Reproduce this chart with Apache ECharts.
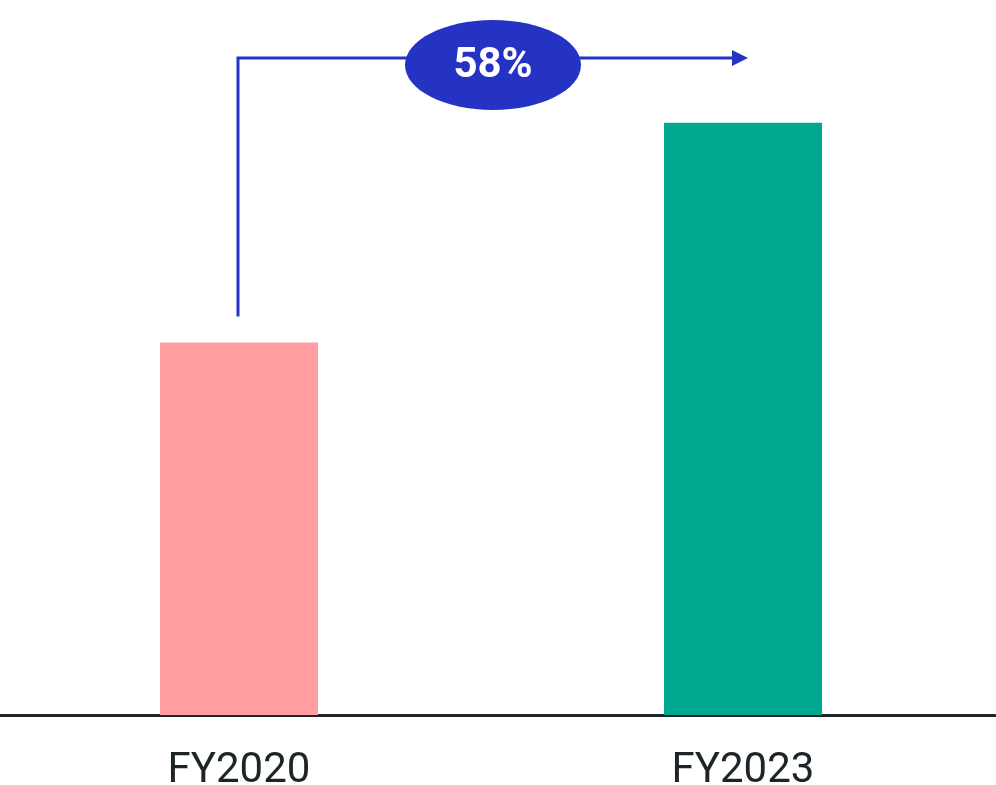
<!DOCTYPE html>
<html>
<head>
<meta charset="utf-8">
<script src="https://cdn.jsdelivr.net/npm/echarts@6/dist/echarts.min.js"></script>
<style>
  html, body { margin: 0; padding: 0; background: #fff; }
  #chart { width: 996px; height: 785px; }
</style>
</head>
<body>
<div id="chart"></div>
<script>
// 数据
const categories = ['FY2020', 'FY2023'];
const values = [100, 159];
const barColors = ['#ff9da0', '#00a88f'];
const growthLabel = '58%';

const myChart = echarts.init(document.getElementById('chart'));

const option = {
  animation: false,
  grid: { left: -13, right: 1, top: 78, bottom: 70, outerBoundsMode: 'none' },
  xAxis: {
    type: 'category',
    data: categories,
    axisLine: { lineStyle: { color: '#1d2528', width: 3 } },
    axisTick: { show: false },
    axisLabel: {
      color: '#1d2528',
      fontFamily: 'Roboto',
      fontSize: 42,
      margin: 35
    }
  },
  yAxis: {
    type: 'value',
    min: 0,
    max: 171,
    show: false
  },
  series: [{
    type: 'bar',
    barWidth: 158,
    data: values.map((v, i) => ({ value: v, itemStyle: { color: barColors[i] } })),
    z: 1
  }]
};
myChart.setOption(option);

// 增长箭头，位置由坐标系换算
const p0 = myChart.convertToPixel({ seriesIndex: 0 }, [0, values[0]]);
const p1 = myChart.convertToPixel({ seriesIndex: 0 }, [1, values[1]]);
const x0 = p0[0] - 1;
const y0 = p0[1] - 26;
const yTop = 58;
const x1 = p1[0] + 5;
const midX = (x0 + x1) / 2;
const blue = '#2433c4';

myChart.setOption({
  graphic: [
    {
      type: 'polyline',
      shape: { points: [[x0, y0], [x0, yTop], [x1 - 14, yTop]] },
      style: { stroke: blue, lineWidth: 3, fill: null },
      z: 10
    },
    {
      type: 'polygon',
      shape: { points: [[x1 - 16, yTop - 8], [x1, yTop], [x1 - 16, yTop + 8]] },
      style: { fill: blue },
      z: 10
    },
    {
      type: 'ellipse',
      shape: { cx: midX, cy: 65, rx: 88, ry: 45 },
      style: { fill: blue },
      z: 11
    },
    {
      type: 'text',
      x: midX,
      y: 66,
      style: {
        text: growthLabel,
        fill: '#fff',
        font: 'bold 42px Roboto',
        textAlign: 'center',
        textVerticalAlign: 'middle'
      },
      z: 12
    }
  ]
});

window.addEventListener('resize', () => {
  myChart.resize();
});
</script>
</body>
</html>
